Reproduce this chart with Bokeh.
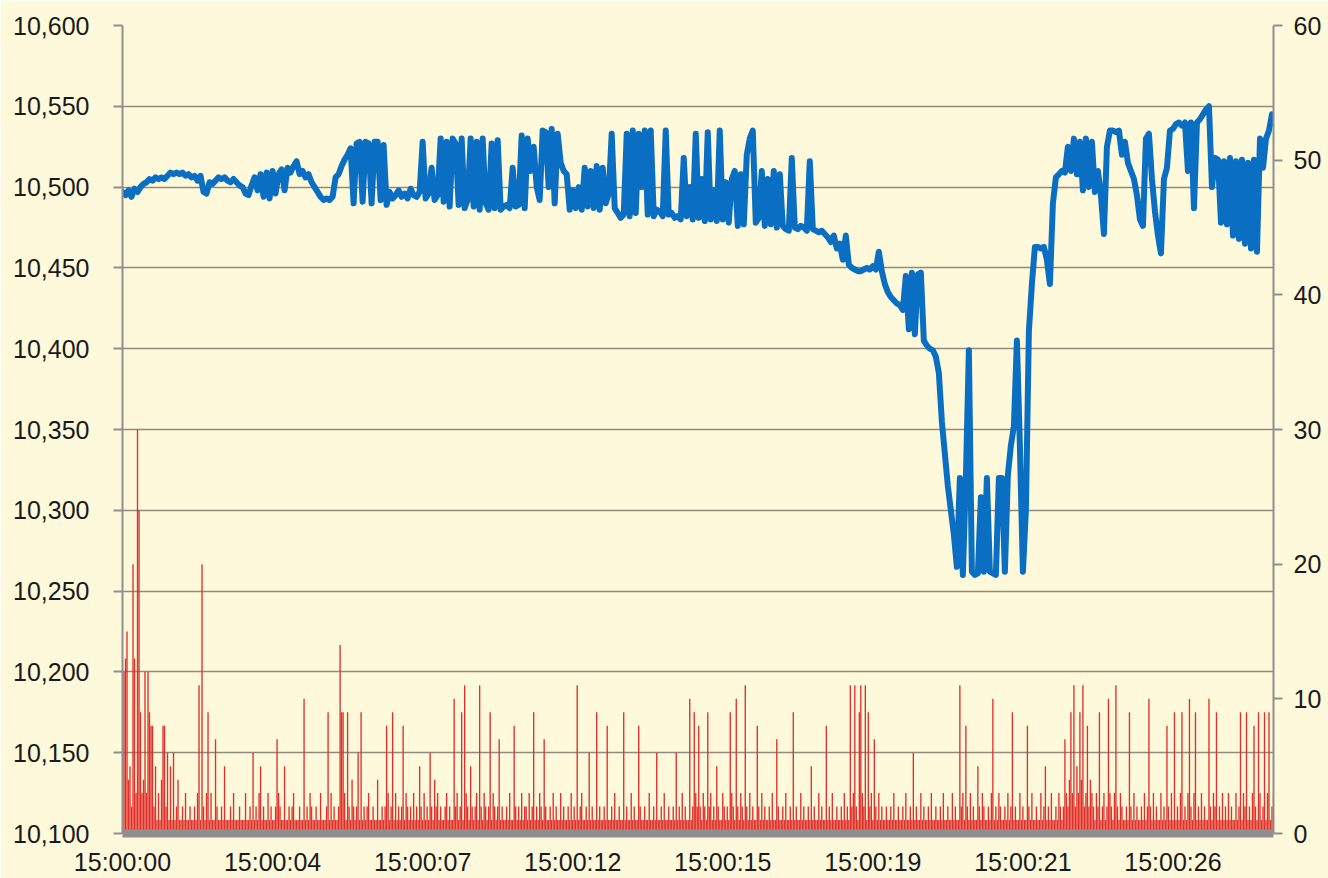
from bokeh.plotting import figure
from bokeh.models import Range1d, LinearAxis, FixedTicker, NumeralTickFormatter, ColumnDataSource
from bokeh.embed import file_html
from bokeh.resources import INLINE

# ---- data ----
TICK_LABELS = ["15:00:00", "15:00:04", "15:00:07", "15:00:12",
               "15:00:15", "15:00:19", "15:00:21", "15:00:26"]
TICK_STEP = 100          # one label every 100 ticks
N_TICKS = 768            # number of trades (categories)
PRICE_STEP = 2           # price sampled every 2 ticks

PRICE = [
    10497, 10495, 10498, 10494, 10499, 10497, 10500, 10502, 10503, 10505,
    10504, 10506, 10505, 10506, 10505, 10507, 10509, 10508, 10509, 10508,
    10509, 10507, 10508, 10506, 10507, 10504, 10507, 10497, 10496, 10503,
    10502, 10504, 10506, 10505, 10506, 10504, 10503, 10505, 10503, 10501,
    10500, 10496, 10495, 10501, 10506, 10498, 10508, 10494, 10509, 10493,
    10510, 10496, 10508, 10511, 10498, 10512, 10509, 10513, 10516, 10508,
    10510, 10506, 10508, 10503, 10500, 10497, 10494, 10492, 10493, 10492,
    10494, 10506, 10508, 10513, 10517, 10520, 10524, 10490, 10527, 10528,
    10491, 10528, 10527, 10490, 10528, 10528, 10492, 10526, 10489, 10497,
    10493, 10495, 10498, 10494, 10496, 10493, 10499, 10495, 10494, 10497,
    10528, 10493, 10496, 10512, 10492, 10495, 10530, 10491, 10528, 10488,
    10530, 10527, 10489, 10530, 10487, 10492, 10530, 10488, 10528, 10486,
    10530, 10490, 10486, 10527, 10487, 10529, 10486, 10488, 10489, 10487,
    10512, 10488, 10489, 10532, 10487, 10530, 10510, 10525, 10500, 10492,
    10535, 10534, 10500, 10536, 10490, 10533, 10515, 10510, 10508, 10486,
    10498, 10487, 10500, 10486, 10512, 10488, 10510, 10487, 10513, 10486,
    10512, 10490, 10496, 10533, 10487, 10484, 10481, 10483, 10533, 10482,
    10535, 10484, 10533, 10500, 10535, 10483, 10535, 10482, 10486, 10485,
    10482, 10535, 10483, 10484, 10481, 10482, 10480, 10518, 10482, 10500,
    10480, 10533, 10481, 10505, 10479, 10534, 10480, 10498, 10479, 10535,
    10480, 10503, 10478, 10505, 10510, 10476, 10508, 10477, 10520, 10530,
    10535, 10478, 10481, 10510, 10476, 10505, 10477, 10510, 10475, 10508,
    10476, 10474, 10473, 10518, 10475, 10474, 10476, 10475, 10473, 10516,
    10474, 10473, 10472, 10473, 10471, 10469, 10466, 10470, 10462, 10465,
    10455, 10470, 10452, 10450, 10449, 10448, 10448, 10449, 10450, 10449,
    10451, 10449, 10460, 10448, 10440, 10435, 10432, 10430, 10428, 10427,
    10424, 10445, 10412, 10447, 10409, 10446, 10447, 10405, 10402, 10400,
    10399, 10395, 10385, 10355, 10335, 10315, 10300, 10285, 10265, 10320,
    10260, 10320, 10399, 10262, 10260, 10261, 10308, 10262, 10320, 10262,
    10261, 10260, 10320, 10320, 10262, 10322, 10340, 10352, 10405, 10340,
    10262, 10300, 10411, 10440, 10463, 10463, 10462, 10463, 10455, 10440,
    10490, 10506, 10508, 10510, 10509, 10525, 10510, 10530, 10508, 10528,
    10498, 10530, 10500, 10528, 10497, 10510, 10495, 10471, 10525, 10535,
    10535, 10534, 10535, 10520, 10528, 10515, 10510, 10505, 10495, 10480,
    10476, 10530, 10533, 10505, 10485, 10470, 10459, 10505, 10512, 10535,
    10536, 10539, 10540, 10538, 10540, 10510, 10540, 10487, 10540, 10542,
    10545, 10548, 10550, 10500, 10518, 10517, 10478, 10516, 10477, 10518,
    10470, 10516, 10468, 10517, 10465, 10515, 10462, 10517, 10460, 10530,
    10512, 10530, 10535, 10545,
]

VOLUME = [
    7, 12, 13, 15, 4, 5, 2, 20, 13, 3, 30, 24, 9, 3, 4, 12, 3, 12, 9, 8, 8, 2, 5, 1, 3, 1, 4, 8, 8, 2, 6, 1,
    5, 1, 6, 1, 2, 4, 1, 1, 2, 1, 3, 1, 1, 2, 1, 1, 2, 1, 3, 11, 1, 20, 2, 1, 3, 9, 1, 3, 1, 1, 7, 2,
    1, 1, 2, 1, 5, 1, 1, 1, 2, 1, 3, 1, 1, 1, 2, 1, 1, 1, 3, 1, 1, 2, 1, 6, 1, 2, 1, 3, 5, 1, 2, 1,
    1, 3, 1, 2, 1, 1, 2, 7, 3, 2, 1, 1, 5, 1, 1, 2, 1, 2, 3, 1, 1, 1, 2, 1, 1, 10, 1, 2, 1, 3, 2, 1,
    1, 2, 1, 1, 3, 1, 1, 1, 2, 9, 1, 3, 1, 2, 1, 1, 2, 14, 9, 9, 3, 1, 9, 2, 1, 4, 2, 1, 2, 6, 1, 9,
    1, 2, 1, 2, 3, 1, 1, 2, 1, 1, 4, 1, 1, 2, 1, 2, 8, 3, 1, 2, 9, 1, 3, 1, 2, 1, 2, 8, 1, 3, 2, 1,
    2, 1, 3, 1, 2, 1, 5, 2, 1, 3, 1, 2, 1, 6, 2, 1, 4, 2, 3, 1, 2, 1, 1, 2, 3, 1, 2, 1, 1, 10, 2, 3,
    1, 2, 9, 1, 11, 3, 2, 1, 5, 2, 1, 2, 3, 1, 11, 2, 1, 3, 2, 1, 2, 9, 1, 3, 2, 1, 2, 7, 1, 2, 1, 1,
    2, 1, 3, 1, 1, 8, 2, 1, 2, 1, 3, 1, 2, 2, 1, 3, 1, 2, 9, 1, 2, 1, 3, 2, 1, 7, 2, 1, 1, 2, 1, 3,
    1, 2, 1, 1, 3, 1, 2, 1, 1, 2, 1, 3, 1, 2, 1, 11, 1, 2, 3, 1, 1, 2, 1, 6, 1, 2, 1, 1, 9, 1, 2, 1,
    1, 2, 1, 8, 1, 1, 2, 1, 3, 1, 1, 2, 1, 1, 9, 1, 2, 1, 1, 3, 1, 2, 1, 1, 8, 2, 1, 1, 2, 1, 1, 3,
    1, 1, 2, 1, 6, 1, 1, 2, 1, 3, 1, 1, 2, 1, 1, 2, 1, 6, 1, 2, 1, 3, 1, 2, 1, 1, 10, 1, 2, 9, 3, 2,
    8, 2, 1, 3, 2, 1, 9, 2, 3, 1, 2, 1, 5, 2, 1, 1, 3, 2, 1, 2, 1, 9, 3, 2, 1, 10, 2, 1, 3, 2, 1, 11,
    2, 1, 3, 1, 2, 1, 1, 8, 2, 1, 3, 1, 2, 1, 1, 2, 1, 3, 1, 1, 7, 2, 1, 1, 2, 1, 3, 1, 1, 2, 1, 9,
    1, 2, 1, 1, 3, 1, 2, 1, 1, 2, 1, 5, 1, 2, 1, 1, 3, 1, 2, 1, 1, 8, 1, 2, 1, 3, 1, 1, 2, 1, 1, 2,
    1, 3, 1, 2, 1, 11, 2, 3, 11, 2, 1, 9, 11, 3, 2, 11, 1, 9, 2, 3, 1, 7, 2, 1, 3, 1, 2, 1, 1, 2, 1, 1,
    2, 1, 3, 1, 1, 2, 1, 1, 2, 1, 3, 1, 1, 2, 1, 6, 1, 2, 1, 1, 3, 1, 2, 1, 1, 2, 1, 3, 1, 1, 2, 1,
    1, 2, 1, 3, 1, 1, 2, 1, 1, 3, 1, 2, 1, 1, 11, 2, 3, 1, 8, 2, 1, 3, 1, 2, 1, 1, 5, 2, 1, 3, 2, 1,
    1, 2, 1, 3, 10, 1, 2, 1, 3, 2, 1, 1, 2, 1, 3, 1, 2, 9, 1, 2, 1, 1, 3, 1, 2, 1, 1, 8, 2, 1, 3, 1,
    1, 2, 1, 1, 3, 1, 2, 5, 1, 2, 1, 3, 1, 1, 2, 1, 3, 2, 1, 2, 7, 3, 2, 4, 9, 3, 11, 2, 5, 3, 9, 4,
    11, 2, 3, 8, 2, 4, 3, 2, 1, 3, 2, 9, 1, 2, 3, 1, 2, 10, 3, 2, 1, 3, 11, 2, 1, 3, 2, 1, 1, 2, 1, 9,
    2, 1, 3, 1, 2, 1, 1, 2, 1, 3, 1, 2, 10, 2, 1, 3, 1, 2, 1, 1, 3, 1, 2, 1, 8, 2, 1, 3, 1, 9, 1, 2,
    1, 3, 9, 1, 2, 1, 3, 10, 2, 1, 3, 9, 1, 2, 1, 3, 1, 2, 1, 1, 10, 2, 1, 3, 2, 9, 1, 2, 1, 3, 1, 2,
    1, 3, 1, 2, 1, 1, 3, 1, 2, 9, 1, 3, 2, 9, 1, 2, 1, 3, 8, 2, 1, 9, 3, 1, 2, 9, 1, 3, 9, 1, 2, 3,
]

PRICE_TICKS = [10100, 10150, 10200, 10250, 10300, 10350, 10400, 10450, 10500, 10550, 10600]
VOLUME_TICKS = [0, 10, 20, 30, 40, 50, 60]

# ---- styling ----
BG = "#FEF9DA"
GRID = "#8E8A80"
AXIS = "#8F8F8F"
TXT = "#1A1A1A"
FONT = "Liberation Sans"

price_src = ColumnDataSource(dict(x=[i * PRICE_STEP for i in range(len(PRICE))], y=PRICE))
vol_src = ColumnDataSource(dict(x=list(range(len(VOLUME))), top=VOLUME))

p = figure(width=1328, height=878, output_backend="svg", toolbar_location=None,
           x_range=Range1d(0, N_TICKS - 1), y_range=Range1d(PRICE_TICKS[0], PRICE_TICKS[-1]),
           min_border_left=122, min_border_right=55, min_border_top=25, min_border_bottom=45)
p.background_fill_color = BG
p.border_fill_color = BG
p.outline_line_color = None

p.extra_y_ranges = {"vol": Range1d(VOLUME_TICKS[0], VOLUME_TICKS[-1])}

p.vbar(x="x", top="top", bottom=0, width=0.9, source=vol_src, y_range_name="vol",
       fill_color="#E0302C", line_color=None)
p.line("x", "y", source=price_src, line_color="#0A6FC2", line_width=6,
       line_join="round", line_cap="round")

# x axis
tick_pos = [i * TICK_STEP for i in range(len(TICK_LABELS))]
xa = p.xaxis[0]
xa.ticker = FixedTicker(ticks=tick_pos)
xa.major_label_overrides = {t: lab for t, lab in zip(tick_pos, TICK_LABELS)}
xa.major_tick_out = 0
xa.major_tick_in = 0
xa.minor_tick_out = 0
xa.minor_tick_in = 0
xa.axis_line_color = AXIS
xa.axis_line_width = 8
xa.major_label_standoff = 14
p.xgrid.visible = False

# left axis
ya = p.yaxis[0]
ya.ticker = FixedTicker(ticks=PRICE_TICKS)
ya.formatter = NumeralTickFormatter(format="0,0")
ya.major_tick_out = 9
ya.major_tick_in = 0
ya.minor_tick_out = 0
ya.minor_tick_in = 0
ya.major_tick_line_color = AXIS
ya.major_tick_line_width = 2
ya.axis_line_color = AXIS
ya.axis_line_width = 2
ya.major_label_standoff = 24
p.ygrid.ticker = FixedTicker(ticks=PRICE_TICKS)
p.ygrid.grid_line_color = GRID
p.ygrid.grid_line_width = 1.6

# right axis
yr = LinearAxis(y_range_name="vol", ticker=FixedTicker(ticks=VOLUME_TICKS))
yr.major_tick_out = 9
yr.major_tick_in = 0
yr.minor_tick_out = 0
yr.minor_tick_in = 0
yr.major_tick_line_color = AXIS
yr.major_tick_line_width = 2
yr.axis_line_color = AXIS
yr.axis_line_width = 2
yr.major_label_standoff = 11
p.add_layout(yr, "right")

for ax in (xa, ya, yr):
    ax.major_label_text_font = FONT
    ax.major_label_text_font_size = "25px"
    ax.major_label_text_color = TXT

open("out.html", "w").write(file_html(p, INLINE))
